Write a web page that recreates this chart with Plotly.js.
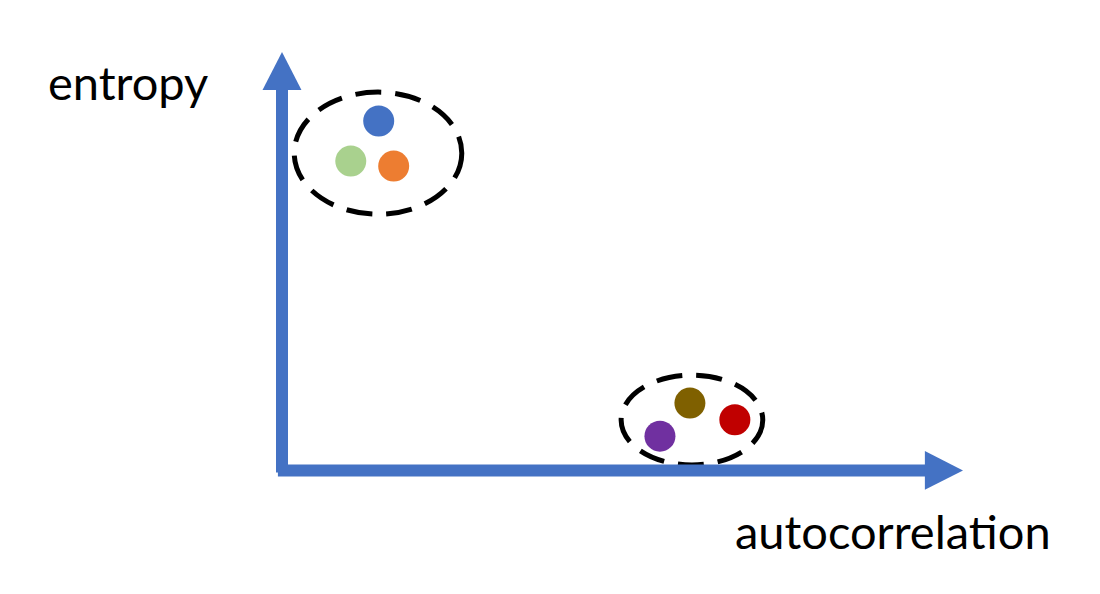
<!DOCTYPE html>
<html>
<head>
<meta charset="utf-8">
<script src="https://cdn.plot.ly/plotly-3.0.1.min.js"></script>
<style>
  html, body { margin: 0; padding: 0; background: #fff; }
  #chart { width: 1100px; height: 594px; }
</style>
</head>
<body>
<div id="chart"></div>
<script>
// two clusters of series, (autocorrelation, entropy) in axis units (origin = 0,0, arrow tips = 1)
const names = ['blue', 'green', 'orange', 'brown', 'red', 'purple']
const autocorr = [0.142, 0.101, 0.164, 0.599, 0.665, 0.555]
const entropy = [0.835, 0.739, 0.727, 0.160, 0.120, 0.081]
const colors = ['#4472C4', '#A9D18E', '#ED7D31', '#7F6000', '#C00000', '#7030A0']

// dashed groupings around each cluster
const groupX0 = [0.018, 0.498]
const groupX1 = [0.264, 0.706]
const groupY0 = [0.612, 0.012]
const groupY1 = [0.904, 0.227]

const axisBlue = '#4472C4'

let data = [{
    x: autocorr,
    y: entropy,
    text: names,
    type: 'scatter',
    mode: 'markers',
    marker: { color: colors, size: 31, line: { width: 0 } },
    hoverinfo: 'none'
}]

let shapes = groupX0.map((x0, i) => ({
    type: 'circle', xref: 'x', yref: 'y',
    x0: x0, x1: groupX1[i], y0: groupY0[i], y1: groupY1[i],
    line: { color: '#000', width: 5, dash: '26px,14px' }
}))

// axis arrows
shapes.push(
    { type: 'line', xref: 'x', yref: 'y', x0: 0, x1: 0, y0: -0.006, y1: 0.91,
      line: { color: axisBlue, width: 12 } },
    { type: 'path', xref: 'x', yref: 'y', path: 'M -0.0286 0.909 L 0.0286 0.909 L 0 1 Z',
      fillcolor: axisBlue, line: { width: 0 } },
    { type: 'line', xref: 'x', yref: 'y', x0: -0.006, x1: 0.945, y0: -0.001, y1: -0.001,
      line: { color: axisBlue, width: 12 } },
    { type: 'path', xref: 'x', yref: 'y', path: 'M 0.944 0.0455 L 0.944 -0.0475 L 1 -0.001 Z',
      fillcolor: axisBlue, line: { width: 0 } }
)

const labelFont = { family: 'Lato, "Open Sans", sans-serif', size: 47, color: '#000' }

let layout = {
    width: 1100,
    height: 594,
    margin: { l: 0, r: 0, t: 0, b: 0 },
    paper_bgcolor: '#fff',
    plot_bgcolor: '#fff',
    showlegend: false,
    xaxis: { range: [-0.4141, 1.2012], visible: false, fixedrange: true },
    yaxis: { range: [-0.2967, 1.1244], visible: false, fixedrange: true },
    shapes: shapes,
    annotations: [{
        xref: 'paper', yref: 'paper', x: 0.0418, y: 0.862,
        xanchor: 'left', yanchor: 'middle',
        text: 'entropy', showarrow: false, font: labelFont
    }, {
        xref: 'paper', yref: 'paper', x: 0.666, y: 0.106,
        xanchor: 'left', yanchor: 'middle',
        text: 'autocorrelation', showarrow: false, font: labelFont
    }]
}

Plotly.newPlot('chart', data, layout, { displayModeBar: false, staticPlot: true })
</script>
</body>
</html>
